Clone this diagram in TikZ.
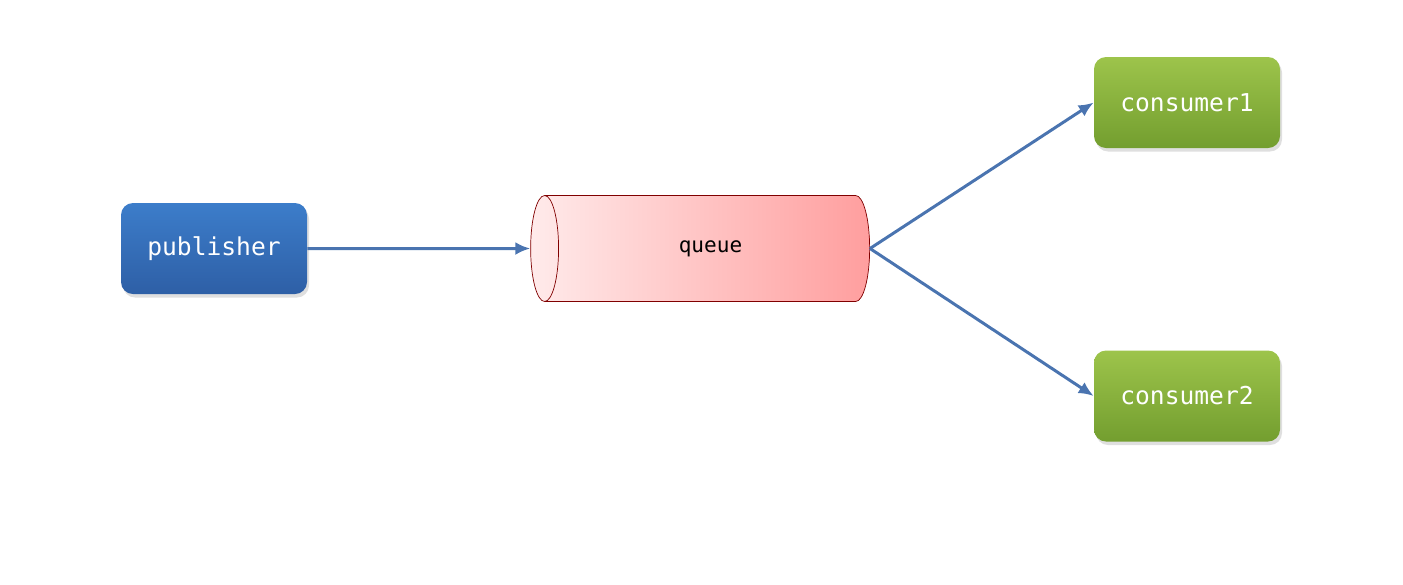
\documentclass[tikz,border=0pt]{standalone}
\usepackage{fontspec}
\setmonofont{DejaVu Sans Mono}
\usetikzlibrary{arrows.meta}
\usetikzlibrary{shapes.geometric}
\usetikzlibrary{shadows}

\begin{document}
\begin{tikzpicture}
  \tikzstyle{box}=[rounded corners=0.24cm,minimum width=3.72cm,minimum height=1.82cm,
    text=white,font=\ttfamily\fontsize{14}{16}\selectfont,
    drop shadow={opacity=0.25,shadow xshift=0.04cm,shadow yshift=-0.07cm}]
  \tikzstyle{pub}=[box,top color=pubtop,bottom color=pubbot]
  \tikzstyle{cons}=[box,top color=constop,bottom color=consbot]
  \tikzstyle{flow}=[draw=arrowcol,line width=1.7pt,-{Latex[length=0.3cm,width=0.26cm]}]
  \definecolor{pubtop}{HTML}{3C7DCA}
  \definecolor{pubbot}{HTML}{2E5FA6}
  \definecolor{constop}{HTML}{9DC44B}
  \definecolor{consbot}{HTML}{739E2F}
  \definecolor{arrowcol}{HTML}{4A74B0}

  \useasboundingbox (0,0) rectangle (28.06,-11.68);

  % NODES
  \node[pub] (publisher) at (4.28,-4.97) {publisher};
  \node[cylinder,shape border rotate=180,aspect=1,
    minimum width=2.12cm,minimum height=6.78cm,
    left color=red!8,right color=red!38,draw=red!50!black,
    font=\ttfamily\fontsize{12}{14}\selectfont] (queue) at (14.21,-4.97) {queue};
  \node[cons] (consumer1) at (23.74,-2.05) {consumer1};
  \node[cons] (consumer2) at (23.74,-7.92) {consumer2};

  % ARROWS
  \draw[flow] (publisher.east) -- (queue.west);
  \draw[flow] (queue.east) -- (consumer1.west);
  \draw[flow] (queue.east) -- (consumer2.west);
\end{tikzpicture}
\end{document}
